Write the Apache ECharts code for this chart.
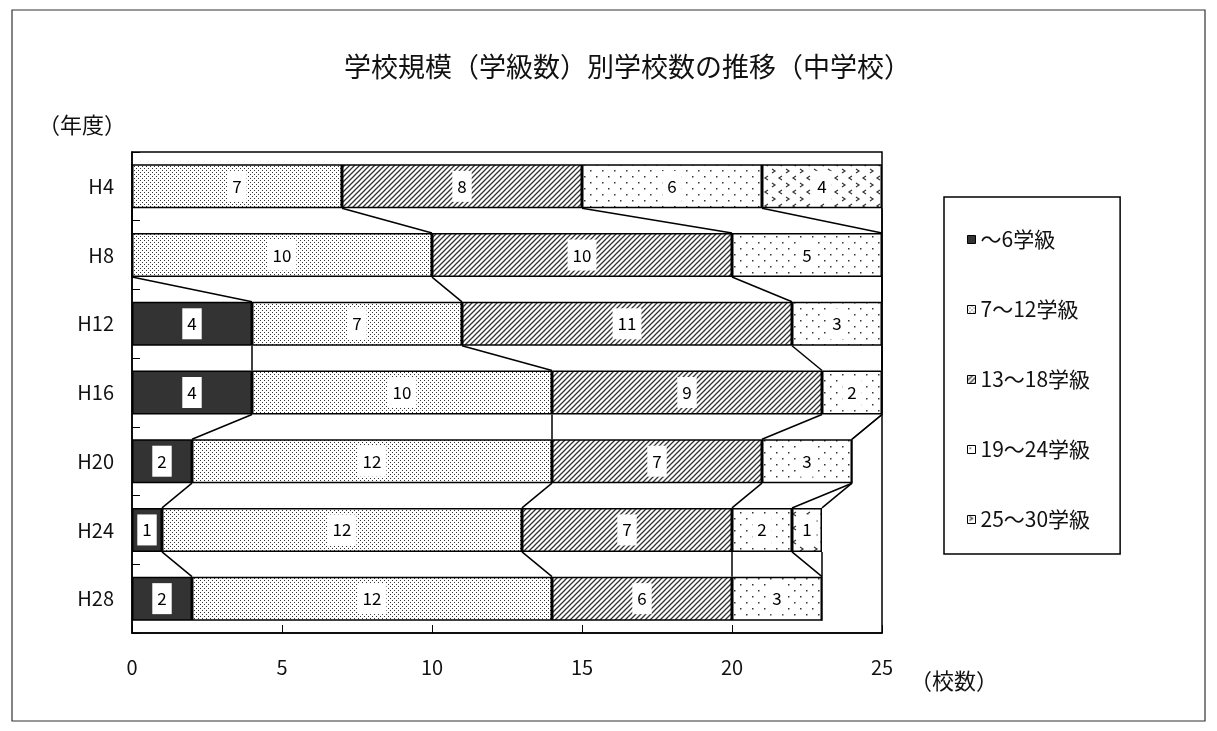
<!DOCTYPE html>
<html><head><meta charset="utf-8">
<script src="https://cdn.jsdelivr.net/npm/echarts@6/dist/echarts.min.js"></script>
<style>html,body{margin:0;padding:0;background:#fff}#c{width:1217px;height:731px}</style>
</head><body><div id="c"></div>
<script>
const categories = ['H4','H8','H12','H16','H20','H24','H28'];
const seriesNames = ['～6学級','7～12学級','13～18学級','19～24学級','25～30学級'];
const s6  = [0, 0, 4, 4, 2, 1, 2];
const s12 = [7, 10, 7, 10, 12, 12, 12];
const s18 = [8, 10, 11, 9, 7, 7, 6];
const s24 = [6, 5, 3, 2, 3, 2, 3];
const s30 = [4, 0, 0, 0, 0, 1, 0];
const xTicks = [0, 5, 10, 15, 20, 25];
const allSeries = [s6, s12, s18, s24, s30];

function pat(size, draw) {
  const c = document.createElement('canvas');
  c.width = size; c.height = size;
  const g = c.getContext('2d');
  g.fillStyle = '#fff'; g.fillRect(0, 0, size, size);
  draw(g);
  return { image: c, repeat: 'repeat' };
}
const fills = [
  '#333',
  pat(4, g => { g.fillStyle = '#333'; g.fillRect(0, 0, 1, 1); g.fillRect(2, 2, 1, 1); }),
  pat(5, g => { g.strokeStyle = '#333'; g.lineWidth = 1.3; g.beginPath(); g.moveTo(-1, 6); g.lineTo(6, -1); g.moveTo(-1, 1); g.lineTo(1, -1); g.moveTo(4, 6); g.lineTo(6, 4); g.stroke(); }),
  pat(12, g => { g.fillStyle = '#333'; g.fillRect(2, 2, 1.5, 1.5); g.fillRect(8, 8, 1.5, 1.5); }),
  pat(14, g => { g.strokeStyle = '#333'; g.lineWidth = 1.2; g.beginPath();
    g.moveTo(2, 1); g.lineTo(5, 3); g.lineTo(2, 5);
    g.moveTo(12, 8); g.lineTo(9, 10); g.lineTo(12, 12); g.stroke(); })
];

const barSeries = allSeries.map((arr, k) => ({
  name: seriesNames[k],
  type: 'bar',
  stack: 'total',
  barCategoryGap: '36%',
  itemStyle: { color: fills[k], borderColor: '#000', borderWidth: 1.5 },
  label: {
    show: true, position: 'inside', color: '#000', fontSize: 17,
    fontFamily: 'Noto Sans CJK JP', backgroundColor: '#fff', padding: [7, 5, 7, 5]
  },
  data: arr.map(v => ({ value: v, label: { show: v > 0 } }))
}));

// series lines connecting cumulative ends of each series between adjacent bars
const lineData = [];
for (let i = 0; i < categories.length - 1; i++) {
  let cu = 0, cl = 0;
  for (let k = 0; k < allSeries.length; k++) {
    cu += allSeries[k][i]; cl += allSeries[k][i + 1];
    lineData.push([cu, cl, i]);
  }
}

const chart = echarts.init(document.getElementById('c'));
chart.setOption({
  backgroundColor: '#fff',
  animation: false,
  title: {
    text: '学校規模（学級数）別学校数の推移（中学校）', left: 344, top: 53,
    textStyle: { fontFamily: 'Noto Sans CJK JP', fontSize: 27, fontWeight: 'normal', color: '#111' },
    padding: 0
  },
  legend: {
    orient: 'vertical', left: 944, top: 197,
    data: seriesNames,
    icon: 'rect', itemWidth: 8, itemHeight: 8, itemGap: 49,
    borderColor: '#000', borderWidth: 1.5,
    padding: [32, 30, 24, 23],
    itemStyle: { borderColor: '#000', borderWidth: 1 },
    textStyle: { fontFamily: 'Noto Sans CJK JP', fontSize: 21, color: '#111' }
  },
  grid: { left: 132, right: 335, top: 152, bottom: 98, show: true, borderColor: '#000', borderWidth: 1.5 },
  xAxis: {
    type: 'value', min: 0, max: 25, interval: 5,
    axisLine: { show: true, lineStyle: { color: '#000', width: 1.5 } },
    axisTick: { show: true, inside: true, length: 8, lineStyle: { color: '#000' } },
    splitLine: { show: false },
    axisLabel: { margin: 24, fontSize: 20, color: '#111', fontFamily: 'Noto Sans CJK JP',
      formatter: v => xTicks.includes(v) ? String(v) : '' }
  },
  yAxis: {
    type: 'category', data: categories, inverse: true,
    axisLine: { show: true, lineStyle: { color: '#000', width: 1.5 } },
    axisTick: { show: true, inside: true, length: 8, lineStyle: { color: '#000' } },
    axisLabel: { margin: 18, fontSize: 20, color: '#111', fontFamily: 'Noto Sans CJK JP' }
  },
  series: barSeries.concat([{
    type: 'custom',
    name: 'lines',
    z: 5,
    encode: { x: [0, 1], y: 2 },
    renderItem: (params, api) => {
      const i = api.value(2);
      const a = api.coord([api.value(0), i]);
      const b = api.coord([api.value(1), i + 1]);
      const half = api.size([0, 1])[1] * 0.64 / 2;
      return { type: 'line', shape: { x1: a[0], y1: a[1] + half, x2: b[0], y2: b[1] - half },
        style: { stroke: '#000', lineWidth: 1.5 } };
    },
    data: lineData
  }]),
  graphic: [
    { type: 'rect', shape: { x: 12, y: 10, width: 1193, height: 711 }, style: { fill: null, stroke: '#333', lineWidth: 1.2 }, silent: true },
    { type: 'text', left: 38, top: 114, style: { text: '（年度）', font: '22px "Noto Sans CJK JP"', fill: '#111' } },
    { type: 'text', left: 910, top: 670, style: { text: '（校数）', font: '22px "Noto Sans CJK JP"', fill: '#111' } }
  ]
});
</script></body></html>
